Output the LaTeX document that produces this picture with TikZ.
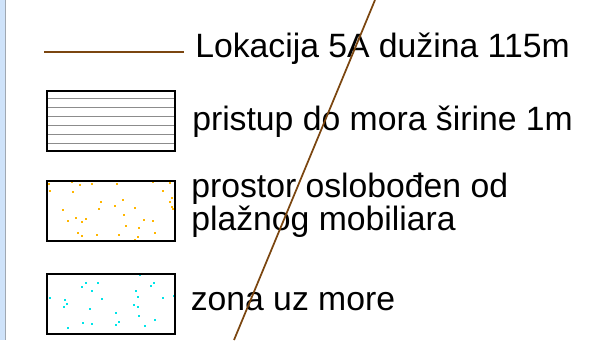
\documentclass[tikz,border=0pt]{standalone}
\usepackage{fontspec}
\setmainfont{Liberation Sans}
\usetikzlibrary{positioning}
\definecolor{routeBrown}{RGB}{123,70,16}
\definecolor{dotOrange}{RGB}{255,182,0}
\definecolor{dotCyan}{RGB}{0,228,232}
\definecolor{barBlue}{RGB}{207,227,250}
\definecolor{barGrey}{RGB}{160,168,178}
\definecolor{hatchGrey}{RGB}{140,140,140}
\tikzset{
	swatch/.style={
		rectangle,
		draw,
		line width=1.5pt,
		minimum width=96pt,
		minimum height=45pt,
		inner sep=0pt
	},
	legendtext/.style={
		anchor=base west,
		inner sep=0pt,
		align=left,
		font=\fontsize{25.3}{23.25}\selectfont
	}
}
\begin{document}
\begin{tikzpicture}[x=0.75pt,y=-0.75pt]
					\useasboundingbox (0,0) rectangle (609,340);
					\clip (0,0) rectangle (609,340);
					\fill[barBlue] (0,0) rectangle (5,340);
					\draw[barGrey, line width=0.75pt] (5.5,0) -- (5.5,340);
					
					\coordinate (routeW) at (44,52);
					\coordinate (routeE) at (184,52);
					\node[swatch] (Pristup) at (111,121) {};
					\node[swatch] (Prostor) at (111,211) {};
					\node[swatch] (Zona) at (111,303.7) {};
					
					\foreach \k in {0,...,5}
						\draw[hatchGrey, line width=0.75pt] (47.5,{98.3+\k*8.95}) -- (174.5,{98.3+\k*8.95});
					\foreach \x/\y in {48.7/184.3, 71.7/182.3, 80.3/184.7, 92/184, 117.3/183.7, 153/182.3, 169.7/183, 49.7/191.3, 72.7/192.3, 162.7/190.7, 172.3/198.3, 170/202, 123/200.3, 100.7/202.3, 115.3/206, 135.3/207.7, 99/209, 172/207, 173/208.7, 62.7/210, 124.3/215.3, 76/217.7, 85.7/219, 144.3/219.7, 152.7/220.7, 68/221.3, 82/222.3, 125.7/225.7, 139.3/227.7, 78.3/233, 155/233, 82/236, 97/234.7, 118.7/234.7, 137.7/237, 65/240.7, 134.7/240.3}
						\fill[dotOrange] (\x-0.9,\y-0.9) rectangle +(1.8,1.8);
					\foreach \x/\y in {140/275.3, 86.3/283, 97.7/283, 154/283, 81.7/287, 151/286.3, 92.3/290.7, 136/291.3, 50/298, 65/300, 102/298.7, 137.7/297.3, 163/297.7, 174/296.3, 66.7/303.7, 63.7/306.7, 134/305.3, 138/306.7, 89.7/308.7, 115.7/313, 139.3/316, 119/321.7, 155.3/320.3, 82.7/322.7, 92/324, 115.7/325, 144.7/326, 68.3/328}
						\fill[dotCyan] (\x-0.9,\y-0.9) rectangle +(1.8,1.8);
					\node[swatch] at (Pristup) {};
					\node[swatch] at (Prostor) {};
					\node[swatch] at (Zona) {};
					
					\draw[routeBrown, line width=1.6pt] (routeW) -- (routeE);
					
					\node[legendtext] (tRoute) at (195,57) {Lokacija 5A dužina 115m};
					\node[legendtext] (tPristup) at (192,130) {pristup do mora širine 1m};
					\node[legendtext] (tProstor) at (191,230) {prostor oslobođen od\\plažnog mobiliara};
					\node[legendtext] (tZona) at (190.5,310) {zona uz more};
					
					\coordinate (coastN) at (375,0);
					\coordinate (coastS) at (234,340);
					\draw[routeBrown, line width=1.3pt] (coastN) -- (coastS);
				\end{tikzpicture}
\end{document}
